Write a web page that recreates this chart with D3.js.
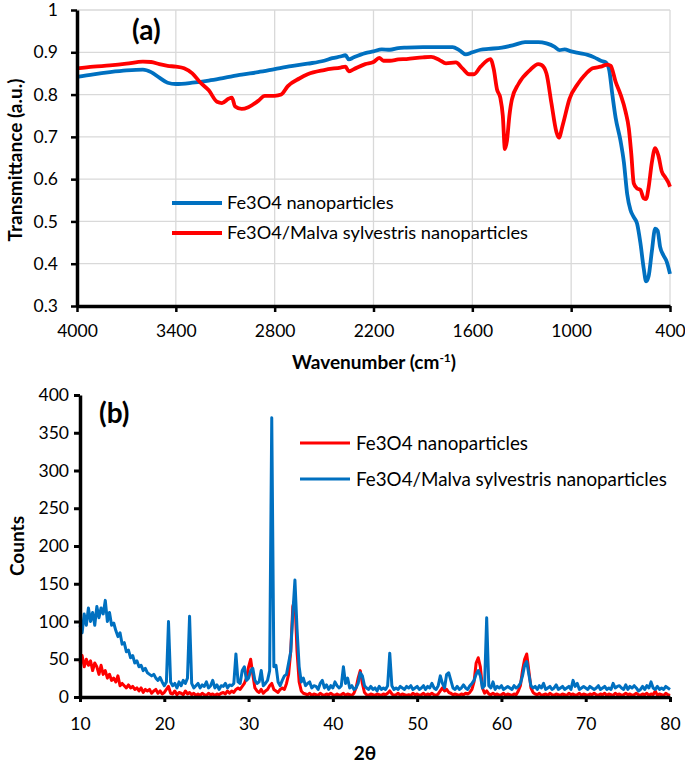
<!DOCTYPE html>
<html><head><meta charset="utf-8">
<script src="https://cdn.jsdelivr.net/npm/d3@7"></script>
<style>
html,body{margin:0;padding:0;background:#fff;}
svg{display:block;font-family:Lato,"Open Sans",sans-serif;}
</style></head>
<body>
<svg id="c" width="685" height="767"></svg>
<script>
// ---------- Panel (a): FTIR ----------
const ftirTicksX = [4000, 3400, 2800, 2200, 1600, 1000, 400];
const ftirTicksY = [0.3, 0.4, 0.5, 0.6, 0.7, 0.8, 0.9, 1];
const ftirSeriesNames = ["Fe3O4 nanoparticles", "Fe3O4/Malva sylvestris nanoparticles"];
const ftirBareWn = [4000,3900,3800,3700,3600,3550,3500,3450,3400,3300,3200,3100,3000,2900,2800,2700,2600,2500,2450,2400,2370,2350,2320,2250,2200,2150,2100,2050,2000,1900,1800,1720,1680,1640,1600,1550,1500,1420,1350,1280,1200,1150,1100,1070,1040,1000,950,900,860,820,790,770,750,730,700,680,660,640,620,600,580,560,545,530,510,490,475,460,440,420,400];
const ftirBareT = [0.842,0.848,0.853,0.857,0.859,0.853,0.840,0.828,0.825,0.828,0.833,0.840,0.847,0.853,0.860,0.867,0.873,0.880,0.886,0.890,0.893,0.883,0.888,0.898,0.902,0.907,0.906,0.910,0.911,0.912,0.912,0.912,0.905,0.895,0.900,0.906,0.908,0.911,0.917,0.924,0.924,0.921,0.913,0.905,0.907,0.902,0.898,0.894,0.888,0.880,0.876,0.860,0.800,0.745,0.690,0.640,0.565,0.527,0.510,0.495,0.450,0.390,0.358,0.370,0.430,0.483,0.478,0.440,0.420,0.405,0.376];
const ftirMalvaWn = [4000,3900,3800,3700,3600,3550,3500,3450,3400,3350,3300,3250,3200,3150,3120,3080,3060,3040,3000,2960,2900,2860,2800,2760,2720,2650,2600,2500,2400,2370,2350,2320,2250,2200,2165,2140,2100,2050,2000,1900,1850,1800,1760,1700,1660,1620,1590,1550,1490,1470,1450,1430,1415,1402,1390,1375,1360,1320,1250,1200,1180,1150,1120,1090,1075,1050,1010,960,920,870,820,780,760,730,700,670,650,635,620,600,580,560,545,530,510,490,470,450,430,410,400];
const ftirMalvaT = [0.862,0.866,0.869,0.873,0.878,0.877,0.872,0.868,0.866,0.862,0.850,0.828,0.810,0.783,0.780,0.790,0.793,0.772,0.766,0.770,0.785,0.797,0.797,0.800,0.820,0.838,0.848,0.858,0.864,0.866,0.855,0.860,0.872,0.877,0.887,0.880,0.880,0.883,0.884,0.888,0.889,0.882,0.874,0.876,0.862,0.848,0.848,0.866,0.884,0.860,0.812,0.792,0.750,0.671,0.690,0.750,0.788,0.825,0.858,0.872,0.870,0.850,0.780,0.712,0.698,0.730,0.790,0.825,0.845,0.862,0.866,0.871,0.868,0.830,0.800,0.760,0.720,0.660,0.590,0.578,0.575,0.555,0.553,0.580,0.640,0.673,0.655,0.618,0.605,0.592,0.582];

// ---------- Panel (b): XRD ----------
const xrdTicksX = [10, 20, 30, 40, 50, 60, 70, 80];
const xrdTicksY = [0, 50, 100, 150, 200, 250, 300, 350, 400];
const xrdSeriesNames = ["Fe3O4 nanoparticles", "Fe3O4/Malva sylvestris nanoparticles"];
// 2θ sampled every 0.25° from 10 to 80
const xrdAngles = d3.range(0, 281).map(i => 10 + i * 0.25);
const xrdBare = [
 45,55,40,50, 42,48,35,45, 40,30,42,30, 35,25,30,22, 25,20,28,15,
 18,15,12,16, 12,14,10,12, 8,12,6,10, 8,10,5,8, 10,5,8,4,
 6,10,14,5, 4,8,3,6, 5,3,8,4, 6,3,5,2, 4,2,5,3,
 2,5,3,4, 2,4,3,5, 6,4,8,5, 8,6,10,12, 10,14,18,25,
 40,50,30,12, 8,6,10,5, 8,10,15,18, 10,8,6,10, 12,10,18,30,
 60,120,130,60, 20,8,5,4, 3,5,2,4, 3,2,5,3, 2,4,3,5,
 3,2,4,2, 3,5,2,4, 3,2,5,12, 25,35,18,6, 3,2,4,3,
 2,4,3,2, 4,3,5,8, 4,2,3,5, 2,4,3,2, 3,2,5,3,
 4,2,3,5, 2,4,3,5, 3,2,4,8, 12,8,10,6, 5,3,4,3,
 2,4,3,5, 4,6,10,20, 45,52,40,12, 5,8,4,3, 5,3,4,2,
 3,5,2,4, 3,2,4,3, 8,15,35,50, 57,35,12,6, 4,3,5,2,
 3,4,2,5, 3,2,4,3, 2,4,3,2, 5,3,4,2, 3,5,2,4,
 3,2,4,3, 5,3,2,4, 3,5,2,4, 3,2,5,3, 4,2,3,5,
 3,4,2,3, 5,3,2,4, 3,5,2,4, 3,8,2,4, 3,2,5,3,
 2];
const xrdMalva = [
 95,85,110,95, 118,100,112,95, 120,105,118,110, 128,100,112,95, 98,88,80,85,
 70,72,60,62, 52,55,45,48, 40,42,35,38, 32,30,28,30, 25,22,26,20,
 15,20,100,20, 15,18,12,20, 15,22,18,25, 107,18,12,15, 18,12,16,14,
 20,12,15,22, 12,16,10,15, 14,18,12,16, 15,18,57,20, 18,35,40,22,
 25,35,38,22, 18,20,35,15, 18,22,35,370, 40,42,20,15, 22,28,30,45,
 60,110,155,90, 40,20,25,15, 18,20,12,15, 14,10,18,22, 12,16,10,15,
 12,20,15,12, 15,40,18,25, 12,15,10,12, 18,32,28,15, 12,10,14,10,
 12,8,14,10, 12,10,15,58, 15,10,12,10, 14,12,10,14, 12,15,10,12,
 14,10,12,15, 10,14,12,18, 12,10,15,28, 18,12,30,32, 22,12,10,14,
 10,12,16,12, 10,15,18,22, 30,35,28,12, 15,105,15,12, 20,10,14,12,
 15,10,12,14, 12,10,15,12, 14,18,28,42, 47,30,15,12, 14,10,15,12,
 18,10,12,14, 10,12,16,10, 12,14,10,12, 14,10,22,14, 18,10,12,14,
 12,10,14,12, 10,12,15,10, 12,14,10,12, 10,18,12,14, 15,12,10,16,
 10,14,12,15, 12,8,10,14, 10,15,12,20, 12,10,14,10, 12,10,14,12,
 10];

const BLUE = "#0070c0", RED = "#ff0000", GRID = "#d9d9d9";
const FONT = "Lato, 'Open Sans', sans-serif";
const svg = d3.select("#c");

// ===== Panel (a) =====
const ax = d3.scaleLinear().domain([4000, 400]).range([77, 670]);
const ay = d3.scaleLinear().domain([0.3, 1]).range([306, 10]);
const ga = svg.append("g");
ga.selectAll(".hg").data(ftirTicksY).join("line")
  .attr("x1", 77).attr("x2", 670).attr("y1", d => ay(d)).attr("y2", d => ay(d))
  .attr("stroke", GRID).attr("stroke-width", 1.3);
ga.selectAll(".vg").data(ftirTicksX.slice(1)).join("line")
  .attr("x1", d => ax(d)).attr("x2", d => ax(d)).attr("y1", 10).attr("y2", 306)
  .attr("stroke", GRID).attr("stroke-width", 1.3);

const lineA = (wn, t) => d3.line().x((d, i) => ax(wn[i])).y((d, i) => ay(t[i])).curve(d3.curveMonotoneX)(t);
ga.append("path").attr("d", lineA(ftirBareWn, ftirBareT)).attr("fill", "none")
  .attr("stroke", BLUE).attr("stroke-width", 3.8).attr("stroke-linejoin", "round");
ga.append("path").attr("d", lineA(ftirMalvaWn, ftirMalvaT)).attr("fill", "none")
  .attr("stroke", RED).attr("stroke-width", 3.8).attr("stroke-linejoin", "round");

const axA = ga.append("g").attr("transform", "translate(0,306)")
  .call(d3.axisBottom(ax).tickValues(ftirTicksX).tickSize(6).tickSizeOuter(0).tickPadding(13).tickFormat(d3.format("d")));
const ayA = ga.append("g").attr("transform", "translate(77,0)")
  .call(d3.axisLeft(ay).tickValues(ftirTicksY).tickSize(6).tickSizeOuter(0).tickPadding(13).tickFormat(d => d === 1 ? "1" : d3.format(".1f")(d)));
[axA, ayA].forEach(g => {
  g.select(".domain").attr("stroke", "#000").attr("stroke-width", 3.5);
  g.selectAll(".tick line").attr("stroke", "#000").attr("stroke-width", 2.5);
  g.selectAll(".tick text").attr("font-family", FONT).attr("font-size", 17.5).attr("fill", "#000");
});
ga.append("text").attr("x", 374).attr("y", 369).attr("text-anchor", "middle")
  .attr("font-weight", "bold").attr("font-size", 19)
  .html('Wavenumber (cm<tspan dy="-7" font-size="12">-1</tspan><tspan dy="7">)</tspan>');
ga.append("text").attr("transform", "translate(22,160) rotate(-90)").attr("text-anchor", "middle")
  .attr("font-weight", "bold").attr("font-size", 19).text("Transmittance (a.u.)");
ga.append("text").attr("x", 132).attr("y", 40).attr("font-weight", "bold").attr("font-size", 28).text("(a)");

const legA = ga.append("g");
[[BLUE, 203, ftirSeriesNames[0]], [RED, 233, ftirSeriesNames[1]]].forEach(([c, y, t]) => {
  legA.append("line").attr("x1", 172).attr("x2", 222).attr("y1", y).attr("y2", y).attr("stroke", c).attr("stroke-width", 4);
  legA.append("text").attr("x", 227).attr("y", y).attr("dy", "0.35em").attr("font-size", 18.2).text(t);
});

// ===== Panel (b) =====
const bx = d3.scaleLinear().domain([10, 80]).range([80, 670]);
const by = d3.scaleLinear().domain([0, 400]).range([697, 395]);
const gb = svg.append("g");
const lineB = vals => d3.line().x((d, i) => bx(xrdAngles[i])).y(d => by(d))(vals);
gb.append("path").attr("d", lineB(xrdBare)).attr("fill", "none")
  .attr("stroke", RED).attr("stroke-width", 3).attr("stroke-linejoin", "round");
gb.append("path").attr("d", lineB(xrdMalva)).attr("fill", "none")
  .attr("stroke", BLUE).attr("stroke-width", 3).attr("stroke-linejoin", "round");

const bxA = gb.append("g").attr("transform", "translate(0,697)")
  .call(d3.axisBottom(bx).tickValues(xrdTicksX).tickSize(5).tickSizeOuter(0).tickPadding(16).tickFormat(d3.format("d")));
const byA = gb.append("g").attr("transform", "translate(80,0)")
  .call(d3.axisLeft(by).tickValues(xrdTicksY).tickSize(6).tickSizeOuter(0).tickPadding(5).tickFormat(d3.format("d")));
[bxA, byA].forEach(g => {
  g.select(".domain").attr("stroke", "#000").attr("stroke-width", 3.5);
  g.selectAll(".tick line").attr("stroke", "#000").attr("stroke-width", 3);
  g.selectAll(".tick text").attr("font-family", FONT).attr("font-size", 17.5).attr("fill", "#000");
});
gb.append("text").attr("x", 365).attr("y", 760).attr("text-anchor", "middle")
  .attr("font-weight", "bold").attr("font-size", 19).text("2θ");
gb.append("text").attr("transform", "translate(24,546) rotate(-90)").attr("text-anchor", "middle")
  .attr("font-weight", "bold").attr("font-size", 19).text("Counts");
gb.append("text").attr("x", 99).attr("y", 423).attr("font-weight", "bold").attr("font-size", 28).text("(b)");

const legB = gb.append("g");
[[RED, 443, xrdSeriesNames[0]], [BLUE, 479, xrdSeriesNames[1]]].forEach(([c, y, t]) => {
  legB.append("line").attr("x1", 300).attr("x2", 350).attr("y1", y).attr("y2", y).attr("stroke", c).attr("stroke-width", 3);
  legB.append("text").attr("x", 356).attr("y", y).attr("dy", "0.35em").attr("font-size", 18.8).text(t);
});
</script>
</body></html>
